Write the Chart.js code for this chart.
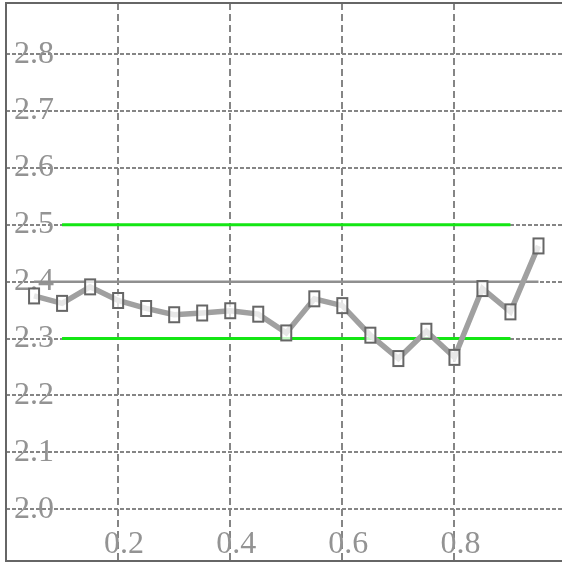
<!DOCTYPE html>
<html>
<head>
<meta charset="utf-8">
<script src="https://cdn.jsdelivr.net/npm/chart.js@4/dist/chart.umd.min.js"></script>
<style>
  html, body { margin: 0; padding: 0; background: #fff; }
  #wrap { width: 562px; height: 563px; }
</style>
</head>
<body>
<div id="wrap"><canvas id="chart"></canvas></div>
<script>
// measured series
const xValues = [0.05, 0.10, 0.15, 0.20, 0.25, 0.30, 0.35, 0.40, 0.45, 0.50,
                 0.55, 0.60, 0.65, 0.70, 0.75, 0.80, 0.85, 0.90, 0.95];
const yValues = [2.375, 2.362, 2.391, 2.367, 2.353, 2.342, 2.345, 2.349, 2.343, 2.310,
                 2.370, 2.358, 2.306, 2.265, 2.313, 2.267, 2.388, 2.347, 2.463];

// reference lines
const upperLimit = 2.5;
const lowerLimit = 2.3;
const centerLine = 2.4;
const limitRange = [0.10, 0.90];
const centerRange = [0.05, 0.95];

// axis ticks
const xTicks = [0.2, 0.4, 0.6, 0.8];
const yTicks = [2.0, 2.1, 2.2, 2.3, 2.4, 2.5, 2.6, 2.7, 2.8];

function makeMarker() {
    const c = document.createElement('canvas');
    c.width = 14;
    c.height = 19;
    const g = c.getContext('2d');
    g.fillStyle = 'rgba(255,255,255,0.75)';
    g.fillRect(1, 1, 12, 17);
    g.strokeStyle = '#666';
    g.lineWidth = 2;
    g.strokeRect(2, 2, 10, 15);
    return c;
}

function hLine(y, range) {
    return [{ x: range[0], y: y }, { x: range[1], y: y }];
}

function flatten(scale, horizontal) {
    if (horizontal) scale.height = 0; else scale.width = 0;
    scale.paddingLeft = 0;
    scale.paddingRight = 0;
    scale.paddingTop = 0;
    scale.paddingBottom = 0;
}

// frame on left, top and bottom (right edge falls off the canvas)
const framePlugin = {
    id: 'frame',
    afterDraw(chart) {
        const a = chart.chartArea;
        const ctx = chart.ctx;
        ctx.save();
        ctx.strokeStyle = '#666';
        ctx.lineWidth = 2;
        ctx.beginPath();
        ctx.moveTo(chart.width, a.top);
        ctx.lineTo(a.left, a.top);
        ctx.lineTo(a.left, a.bottom);
        ctx.lineTo(chart.width, a.bottom);
        ctx.stroke();
        ctx.restore();
    }
};

const labelFont = { family: "'Liberation Serif', serif", size: 32 };

new Chart(document.getElementById('chart').getContext('2d'), {
    type: 'line',
    data: {
        datasets: [
            {
                data: xValues.map((x, i) => ({ x: x, y: yValues[i] })),
                borderColor: '#a0a0a0',
                borderWidth: 5.5,
                pointStyle: makeMarker(),
                pointRadius: 8,
                tension: 0,
                order: 0
            },
            {
                data: hLine(centerLine, centerRange),
                borderColor: '#8f8f8f',
                borderWidth: 2.5,
                pointRadius: 0,
                order: 1
            },
            {
                data: hLine(upperLimit, limitRange),
                borderColor: '#14e614',
                borderWidth: 3,
                pointRadius: 0,
                order: 2
            },
            {
                data: hLine(lowerLimit, limitRange),
                borderColor: '#14e614',
                borderWidth: 3,
                pointRadius: 0,
                order: 2
            }
        ]
    },
    options: {
        responsive: true,
        maintainAspectRatio: false,
        animation: false,
        events: [],
        layout: { autoPadding: false, padding: { left: 6, top: 3, right: 0, bottom: 2 } },
        plugins: { legend: { display: false }, tooltip: { enabled: false } },
        scales: {
            x: {
                type: 'linear',
                min: 0,
                max: 0.992,
                afterBuildTicks: (scale) => { scale.ticks = xTicks.map(v => ({ value: v })); },
                afterFit: (scale) => flatten(scale, true),
                grid: { color: '#858585', lineWidth: 2, drawTicks: false },
                border: { display: false, dash: [7, 4] },
                ticks: {
                    mirror: true,
                    padding: -3,
                    labelOffset: 6,
                    color: '#939393',
                    font: labelFont,
                    callback: (v) => v.toFixed(1)
                }
            },
            y: {
                type: 'linear',
                min: 1.909,
                max: 2.89,
                afterBuildTicks: (scale) => { scale.ticks = yTicks.map(v => ({ value: v })); },
                afterFit: (scale) => flatten(scale, false),
                grid: { color: '#858585', lineWidth: 2, drawTicks: false },
                border: { display: false, dash: [4, 2] },
                ticks: {
                    mirror: true,
                    padding: 8,
                    color: '#939393',
                    font: labelFont,
                    callback: (v) => v.toFixed(1)
                }
            }
        }
    },
    plugins: [framePlugin]
});
</script>
</body>
</html>
